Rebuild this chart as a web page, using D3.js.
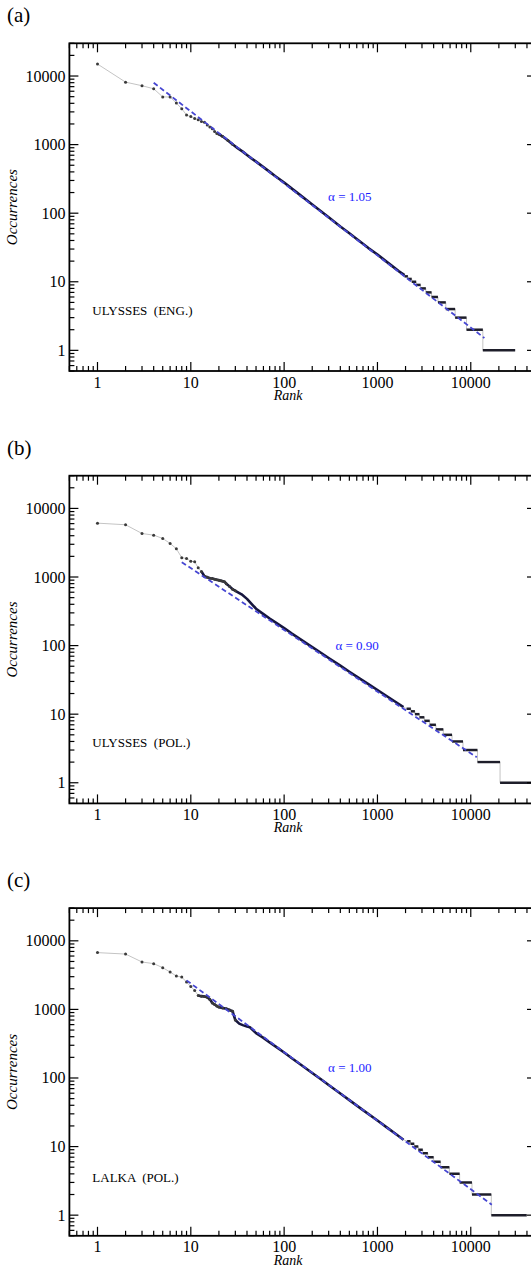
<!DOCTYPE html>
<html><head><meta charset="utf-8">
<script src="https://cdn.jsdelivr.net/npm/d3@7"></script>
<style>body{margin:0;background:#fff} svg{display:block}</style>
</head><body>
<svg id="chart" width="531" height="1271"></svg>
<script>
// ---------- data ----------
const xTickLabels = ["1", "10", "100", "1000", "10000"];
const yTickLabels = ["1", "10", "100", "1000", "10000"];

// (a) Ulysses (English)
const ranksA = [1,2,3,4,5,6,7,8,9,10,11,12,13,14,15,16,17,18,19,20,22,25,28,32,36,40,45,50,60,70,80,100,120,150,200,250,300,400,500,600,800,1000,1200,1500,1700,1950];
const occA   = [14950,8140,7220,6520,4960,4950,4030,3330,2700,2560,2400,2300,2170,2120,1930,1800,1700,1550,1450,1420,1310,1150,1010,880,790,705,625,565,470,400,348,280,230,182,134,106,87,64,51,42,31,25,20.5,16.2,14.2,12.5];
const stepFreqA  = [12,11,10,9,8,7,6,5,4,3,2,1];
const stepStartA = [1950,2120,2330,2600,2900,3300,3800,4450,5400,6800,9000,13470];
const stepEndA   = [2120,2330,2600,2900,3300,3800,4450,5400,6800,9000,13470,29900];
const fitRankA = [4, 14000];
const fitOccA  = [7980, 1.51];

// (b) Ulysses (Polish)
const ranksB = [1,2,3,4,5,6,7,8,9,10,11,12,13,14,15,16,17,18,19,20,21,22,23,24,26,28,30,35,40,46,50,60,70,80,100,120,150,200,250,300,400,500,600,800,1000,1300,1600,1900];
const occB   = [6100,5780,4310,4075,3650,3085,2580,1910,1860,1700,1670,1360,1200,1030,990,960,950,930,910,900,885,870,850,800,730,665,630,560,480,390,345,288,248,220,180,151,123,95,78,66,51,41.5,35.3,27.5,22.5,17.8,14.8,12.7];
const stepFreqB  = [12,11,10,9,8,7,6,5,4,3,2,1];
const stepStartB = [2050,2280,2520,2820,3180,3630,4230,5080,6300,8250,11800,20600];
const stepEndB   = [2280,2520,2820,3180,3630,4230,5080,6300,8250,11800,20600,60000];
const fitRankB = [8, 11600];
const fitOccB  = [1645, 2.35];

// (c) Lalka (Polish)
const ranksC = [1,2,3,4,5,6,7,8,9,10,11,12,13,14,15,16,17,18,19,20,22,24,26,28,30,33,36,40,43,50,60,70,80,100,120,150,200,250,300,400,500,700,1000,1300,1600,1900];
const occC   = [6730,6410,4910,4650,4060,3510,3065,2960,2500,2150,1890,1600,1560,1540,1500,1400,1240,1180,1120,1080,1050,1020,980,940,700,620,590,565,550,450,385,330,292,235,196,157,118,95,79,59.5,47.5,34,24,18.4,15,12.6];
const stepFreqC  = [12,11,10,9,8,7,6,5,4,3,2,1];
const stepStartC = [2080,2260,2480,2740,3060,3470,4000,4750,5900,7600,10300,16600];
const stepEndC   = [2260,2480,2740,3060,3470,4000,4750,5900,7600,10300,16600,39800];
const fitRankC = [9, 16800];
const fitOccC  = [2650, 1.42];

const panels = [
  {tag:"(a)", name:"ULYSSES  (ENG.)", alpha:"\u03b1 = 1.05", ranks:ranksA, occ:occA, sf:stepFreqA, ss:stepStartA, se:stepEndA, fr:fitRankA, fo:fitOccA, thickFrom:20, alphaAt:[296,178], nameAt:[0.88,3.9]},
  {tag:"(b)", name:"ULYSSES  (POL.)", alpha:"\u03b1 = 0.90", ranks:ranksB, occ:occB, sf:stepFreqB, ss:stepStartB, se:stepEndB, fr:fitRankB, fo:fitOccB, thickFrom:13, alphaAt:[355,100], nameAt:[0.88,3.9]},
  {tag:"(c)", name:"LALKA  (POL.)", alpha:"\u03b1 = 1.00", ranks:ranksC, occ:occC, sf:stepFreqC, ss:stepStartC, se:stepEndC, fr:fitRankC, fo:fitOccC, thickFrom:12, alphaAt:[296,140], nameAt:[0.88,3.6]}
];

// ---------- drawing ----------
const svg = d3.select("#chart");
const FONT = "'Liberation Serif','Times New Roman',serif";
const left = 69.4, right = 536;
const panelStep = 432.4, top0 = 43.3, plotH = 327.7;

const x = d3.scaleLog().domain([0.5, 50000]).range([left, right]);

function allLogTicks(lo, hi) {
  const t = [];
  for (let e = -1; e <= 5; e++) for (let m = 1; m <= 9; m++) {
    const v = m * Math.pow(10, e);
    if (v >= lo * 0.9999 && v <= hi * 1.0001) t.push({v, major: m === 1});
  }
  return t;
}

panels.forEach((p, i) => {
  const top = top0 + i * panelStep, bottom = top + plotH;
  const y = d3.scaleLog().domain([0.5, 30000]).range([bottom, top]);
  const g = svg.append("g");

  const clipId = "clip" + i;
  svg.append("clipPath").attr("id", clipId).append("rect")
    .attr("x", left).attr("y", top).attr("width", right - left).attr("height", plotH);

  // panel tag
  g.append("text").attr("x", 7).attr("y", top - 21).text(p.tag)
    .attr("font-family", FONT).attr("font-size", 21).attr("fill", "#000");

  const plot = g.append("g").attr("clip-path", `url(#${clipId})`);

  // thin grey connecting line over all data
  const seq = p.ranks.map((r, k) => [r, p.occ[k]]);
  p.sf.forEach((f, k) => { seq.push([p.ss[k], f]); seq.push([p.se[k], f]); });
  const line = d3.line().x(d => x(d[0])).y(d => y(d[1]));
  plot.append("path").attr("d", line(seq)).attr("fill", "none")
    .attr("stroke", "#c4c4c4").attr("stroke-width", 1);

  // thick dense part
  const dense = p.ranks.map((r, k) => [r, p.occ[k]]).filter(d => d[0] >= p.thickFrom);
  plot.append("path").attr("d", line(dense)).attr("fill", "none")
    .attr("stroke", "#16163e").attr("stroke-width", 2.6).attr("stroke-linejoin", "round");

  // plateaus
  plot.selectAll(null).data(p.sf).join("line")
    .attr("x1", (f, k) => x(p.ss[k])).attr("x2", (f, k) => x(p.se[k]))
    .attr("y1", f => y(f)).attr("y2", f => y(f))
    .attr("stroke", "#1e1e2a").attr("stroke-width", 2.5);

  // head dots
  plot.selectAll(null).data(p.ranks.map((r, k) => [r, p.occ[k]]).filter(d => d[0] <= 30)).join("circle")
    .attr("cx", d => x(d[0])).attr("cy", d => y(d[1])).attr("r", 1.5).attr("fill", "#3a3a3a");

  // fit line
  plot.append("line")
    .attr("x1", x(p.fr[0])).attr("y1", y(p.fo[0]))
    .attr("x2", x(p.fr[1])).attr("y2", y(p.fo[1]))
    .attr("stroke", "#4646d2").attr("stroke-width", 1.8).attr("stroke-dasharray", "5,3");

  // alpha label
  g.append("text").attr("x", x(p.alphaAt[0])).attr("y", y(p.alphaAt[1]) + 4.5)
    .text(p.alpha).attr("font-family", FONT).attr("font-size", 13).attr("fill", "#1c1cff");

  // dataset label
  g.append("text").attr("x", x(p.nameAt[0])).attr("y", y(p.nameAt[1]) + 5)
    .attr("xml:space", "preserve").style("white-space", "pre")
    .text(p.name).attr("font-family", FONT).attr("font-size", 13).attr("fill", "#000");

  // ticks
  const tg = g.append("g").attr("stroke", "#000").attr("stroke-width", 1.2);
  allLogTicks(0.5, 50000).forEach(t => {
    const xx = x(t.v), L = t.major ? 9 : 5;
    if (xx > right + 0.1) return;
    tg.append("line").attr("x1", xx).attr("x2", xx).attr("y1", bottom).attr("y2", bottom - L);
    tg.append("line").attr("x1", xx).attr("x2", xx).attr("y1", top).attr("y2", top + L);
  });
  allLogTicks(0.5, 30000).forEach(t => {
    const yy = y(t.v), L = t.major ? 9 : 5;
    tg.append("line").attr("y1", yy).attr("y2", yy).attr("x1", left).attr("x2", left + L);
    tg.append("line").attr("y1", yy).attr("y2", yy).attr("x1", right).attr("x2", right - L);
  });

  // frame
  g.append("rect").attr("x", left).attr("y", top).attr("width", right - left).attr("height", plotH)
    .attr("fill", "none").attr("stroke", "#000").attr("stroke-width", 1.8);

  // tick labels
  const decades = [1, 10, 100, 1000, 10000];
  g.selectAll(null).data(decades).join("text")
    .attr("x", d => x(d)).attr("y", bottom + 16.5).attr("text-anchor", "middle")
    .text((d, k) => xTickLabels[k]).attr("font-family", FONT).attr("font-size", 16);
  g.selectAll(null).data(decades).join("text")
    .attr("x", left - 4).attr("y", d => y(d) + 5.5).attr("text-anchor", "end")
    .text((d, k) => yTickLabels[k]).attr("font-family", FONT).attr("font-size", 16);

  // axis titles
  g.append("text").attr("x", x(100) + 4).attr("y", bottom + 29).attr("text-anchor", "middle")
    .text("Rank").attr("font-family", FONT).attr("font-style", "italic").attr("font-size", 14);
  g.append("text").attr("transform", `translate(17,${(top + bottom) / 2}) rotate(-90)`)
    .attr("text-anchor", "middle").text("Occurrences")
    .attr("font-family", FONT).attr("font-style", "italic").attr("font-size", 15);
});
</script>
</body></html>
